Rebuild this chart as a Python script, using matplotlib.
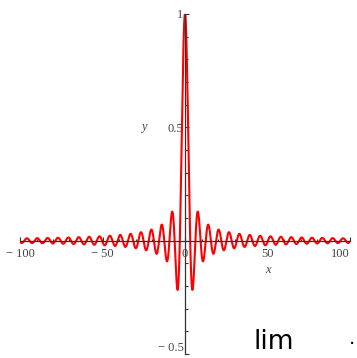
import numpy as np
import matplotlib
matplotlib.use("Agg")
import matplotlib.pyplot as plt
from matplotlib.ticker import MultipleLocator, FixedLocator

# Plotted expression: y = sin(x)/x on [-100, 100] (Maple-style plot)
x_range = [-100, 100]
n_samples = 4001
x_ticks = [-100, -50, 0, 50, 100]
x_tick_labels = ["\u2212 100", "\u2212 50", "0", "50", "100"]
y_ticks = [-0.5, 0.5, 1]
y_tick_labels = ["\u2212 0.5", "0.5", "1"]
y_range = [-0.5, 1.0]

x = np.linspace(x_range[0], x_range[1], n_samples)
y = np.sinc(x / np.pi)  # sin(x)/x

fig = plt.figure(figsize=(3.57, 3.58), dpi=100)
ax = fig.add_axes([20/357, 1 - 354/358, 330/357, 340/358])
ax.plot(x, y, color="#ff0000", lw=1.5, zorder=2)
ax.set_xlim(*x_range)
ax.set_ylim(*y_range)

for s in ["top", "right"]:
    ax.spines[s].set_visible(False)
ax.spines["left"].set_position(("data", 0))
ax.spines["bottom"].set_position(("data", 0))
for s in ["left", "bottom"]:
    ax.spines[s].set_color("#333333")
    ax.spines[s].set_linewidth(0.9)
    ax.spines[s].set_zorder(3)

serif = ["Liberation Serif", "DejaVu Serif"]
ax.xaxis.set_major_locator(FixedLocator(x_ticks))
ax.set_xticklabels(x_tick_labels, family=serif, fontsize=9, color="#444444")
ax.yaxis.set_major_locator(FixedLocator(y_ticks))
ax.set_yticklabels(y_tick_labels, family=serif, fontsize=9, color="#444444")
ax.xaxis.set_minor_locator(MultipleLocator(10))
ax.yaxis.set_minor_locator(MultipleLocator(0.1))
ax.tick_params(which="both", direction="in", color="#333333", width=0.8)
ax.tick_params(axis="x", which="major", length=3, pad=5)
ax.tick_params(axis="x", which="minor", length=1.5)
ax.tick_params(axis="y", which="major", length=3, pad=1)
ax.tick_params(axis="y", which="minor", length=2)

# keep edge labels inside the canvas
ax.get_xticklabels()[-1].set_horizontalalignment("right")
ax.get_xticklabels()[-1].set_x(100)
lbl = ax.get_yticklabels()[0]
lbl.set_verticalalignment("bottom")

ax.text(-25, 0.5, "y", family=serif, style="italic", fontsize=9, color="#444444",
        ha="center", va="center")
ax.text(50, -0.13, "x", family=serif, style="italic", fontsize=9, color="#444444",
        ha="center", va="center")

fig.text(253/357, 1 - 349/358, "lim", fontsize=19, color="black", family="DejaVu Sans",
         ha="left", va="baseline")
fig.text(349/357, 1 - 344/358, "\u00b7", fontsize=14, color="black", ha="left", va="center")

fig.savefig("out.png", dpi=100)
